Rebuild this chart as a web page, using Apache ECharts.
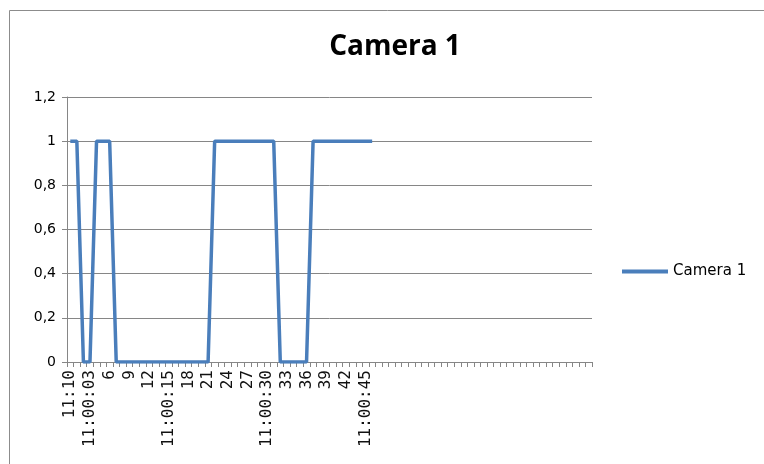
<!DOCTYPE html>
<html lang="en">
<head>
    <meta charset="UTF-8">
    <title>Camera 1</title>
    <style>
        html, body { margin: 0; padding: 0; background: #fff; }
        #main { width: 764px; height: 464px; }
    </style>
</head>
<body>
    <div id="main"></div>
    <script src="https://cdn.jsdelivr.net/npm/echarts@6/dist/echarts.min.js"></script>
    <script>
        // x categories (only every 3rd label is shown, like the Excel chart)
        var categories = [
            '11:10', '1', '2', '11:00:03', '4', '5', '6', '7', '8', '9',
            '10', '11', '12', '13', '14', '11:00:15', '16', '17', '18', '19',
            '20', '21', '22', '23', '24', '25', '26', '27', '28', '29',
            '11:00:30', '31', '32', '33', '34', '35', '36', '37', '38', '39',
            '40', '41', '42', '43', '44', '11:00:45', '', '', '', '',
            '', '', '', '', '', '', '', '', '', '',
            '', '', '', '', '', '', '', '', '', '',
            '', '', '', '', '', '', '', '', '', ''
        ];
        var camera1 = [
            1, 1, 0, 0, 1, 1, 1, 0, 0, 0,
            0, 0, 0, 0, 0, 0, 0, 0, 0, 0,
            0, 0, 1, 1, 1, 1, 1, 1, 1, 1,
            1, 1, 0, 0, 0, 0, 0, 1, 1, 1,
            1, 1, 1, 1, 1, 1, 1
        ];
        var yTicks = [0, 0.2, 0.4, 0.6, 0.8, 1, 1.2];

        var myChart = echarts.init(document.getElementById('main'));
        var gray = '#868686';
        var option = {
            animation: false,
            graphic: [{
                type: 'rect',
                shape: { x: 9.5, y: 10.5, width: 800, height: 500 },
                style: { fill: 'none', stroke: '#8c8c8c', lineWidth: 1 }
            }],
            title: {
                text: 'Camera 1',
                left: 390,
                textAlign: 'center',
                top: 28,
                textStyle: {
                    fontFamily: 'Open Sans',
                    fontWeight: 'bold',
                    fontSize: 28,
                    color: '#000'
                }
            },
            legend: {
                left: 617,
                top: 259,
                icon: 'rect',
                itemWidth: 46,
                itemHeight: 4,
                itemGap: 4,
                textStyle: { fontFamily: 'DejaVu Sans', fontSize: 15, color: '#000' },
                data: ['Camera 1']
            },
            grid: {
                left: 67,
                right: 172,
                top: 97,
                bottom: 102,
                containLabel: false
            },
            xAxis: {
                type: 'category',
                data: categories,
                boundaryGap: true,
                axisLine: { lineStyle: { color: gray } },
                axisTick: { show: true, length: 5, interval: 0, lineStyle: { color: gray } },
                axisLabel: {
                    interval: 2,
                    rotate: 90,
                    margin: 8,
                    fontFamily: 'DejaVu Sans Mono',
                    fontSize: 16,
                    color: '#111'
                },
                splitLine: { show: false }
            },
            yAxis: {
                type: 'value',
                min: yTicks[0],
                max: yTicks[yTicks.length - 1],
                interval: 0.2,
                axisLine: { show: true, lineStyle: { color: gray } },
                axisTick: { show: true, inside: false, length: 5, lineStyle: { color: gray } },
                axisLabel: {
                    margin: 11,
                    fontFamily: 'DejaVu Sans',
                    fontSize: 14,
                    color: '#000',
                    formatter: function (v) {
                        return String(Math.round(v * 10) / 10).replace('.', ',');
                    }
                },
                splitLine: { lineStyle: { color: gray } }
            },
            series: [{
                name: 'Camera 1',
                type: 'line',
                data: camera1,
                showSymbol: false,
                symbol: 'none',
                lineStyle: { color: '#4a7ebb', width: 3.5 },
                itemStyle: { color: '#4a7ebb' }
            }]
        };
        myChart.setOption(option);
    </script>
</body>
</html>
